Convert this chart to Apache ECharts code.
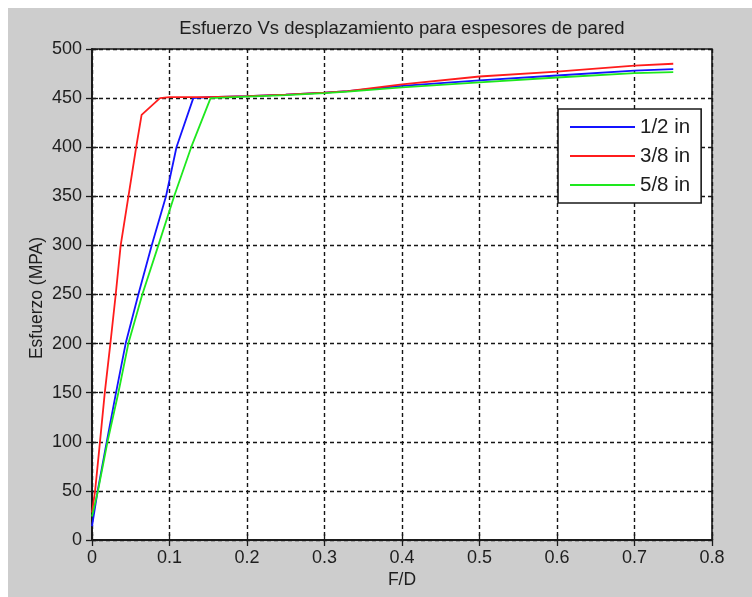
<!DOCTYPE html>
<html>
<head>
<meta charset="utf-8">
<title>Esfuerzo Vs desplazamiento</title>
<script src="https://cdn.jsdelivr.net/npm/echarts@6/dist/echarts.min.js"></script>
<style>
  html, body { margin: 0; padding: 0; background: #ffffff; }
  #frame { position: absolute; left: 8px; top: 8px; width: 744px; height: 589px; background: #cdcdcd; }
  #chart { width: 744px; height: 589px; }
</style>
</head>
<body>
<div id="frame"><div id="chart"></div></div>
<script>
// Tick values
const xTicks = [0, 0.1, 0.2, 0.3, 0.4, 0.5, 0.6, 0.7, 0.8];
const yTicks = [0, 50, 100, 150, 200, 250, 300, 350, 400, 450, 500];

// Wall thickness series names
const seriesNames = ['1/2 in', '3/8 in', '5/8 in'];

// 1/2 in wall: F/D vs stress (MPa)
const halfX = [0, 0.0073, 0.019, 0.031, 0.0434, 0.0598, 0.077, 0.0955, 0.109, 0.1307, 0.15, 0.2, 0.25, 0.3, 0.33, 0.4, 0.5, 0.6, 0.7, 0.75];
const halfY = [14, 50, 100, 150, 200, 250, 300, 350, 400, 450, 451, 452, 453.5, 455.5, 457, 462.5, 468, 473, 478, 479.5];

// 3/8 in wall
const threeEighthsX = [0, 0.004, 0.0103, 0.0165, 0.0237, 0.0306, 0.037, 0.047, 0.057, 0.064, 0.0877, 0.1, 0.15, 0.2, 0.25, 0.3, 0.33, 0.4, 0.5, 0.6, 0.7, 0.75];
const threeEighthsY = [28, 50, 100, 150, 200, 250, 300, 350, 400, 433, 450, 451, 451, 452, 453.5, 455.5, 457, 464, 472, 477, 483, 485];

// 5/8 in wall
const fiveEighthsX = [0, 0.0077, 0.02, 0.034, 0.0469, 0.0649, 0.0856, 0.106, 0.128, 0.153, 0.2, 0.25, 0.3, 0.33, 0.4, 0.5, 0.6, 0.7, 0.75];
const fiveEighthsY = [24, 50, 100, 150, 200, 250, 300, 350, 400, 450, 451.5, 453, 455, 456.5, 461, 466, 471, 475.5, 476.5];

const colors = ['#1414ff', '#ff1c1c', '#1ee81e'];
const FONT = '"Liberation Sans", Arial, sans-serif';

function pairs(xs, ys) { return xs.map((x, i) => [x, ys[i]]); }

const chart = echarts.init(document.getElementById('chart'));

const gridLine = { show: true, lineStyle: { color: '#151515', width: 1.4, type: [4, 3] } };
const axisLine = { show: true, lineStyle: { color: '#1a1a1a', width: 1.6 } };
const tick = { show: true, inside: true, length: 6, lineStyle: { color: '#1a1a1a', width: 1.3 } };
const tickLabel = { fontSize: 18, color: '#1e1e1e', fontFamily: FONT };

const xBase = {
  type: 'value', min: xTicks[0], max: xTicks[xTicks.length - 1], interval: 0.1,
  axisLine: axisLine, axisTick: tick
};
const yBase = {
  type: 'value', min: yTicks[0], max: yTicks[yTicks.length - 1], interval: 50,
  axisLine: axisLine, axisTick: tick
};

chart.setOption({
  animation: false,
  color: colors,
  grid: {
    left: 84, top: 41, right: 40, bottom: 57,
    show: true, backgroundColor: '#ffffff', borderColor: '#1a1a1a', borderWidth: 1.6
  },
  xAxis: [
    Object.assign({}, xBase, {
      position: 'bottom',
      axisLabel: Object.assign({ margin: 9, formatter: v => String(Math.round(v * 10) / 10) }, tickLabel),
      splitLine: gridLine
    }),
    Object.assign({}, xBase, { position: 'top', axisLabel: { show: false }, splitLine: { show: false } })
  ],
  yAxis: [
    Object.assign({}, yBase, {
      position: 'left',
      axisLabel: Object.assign({ margin: 10 }, tickLabel),
      splitLine: gridLine
    }),
    Object.assign({}, yBase, { position: 'right', axisLabel: { show: false }, splitLine: { show: false } })
  ],
  legend: {
    data: seriesNames,
    orient: 'vertical',
    left: 550, top: 101,
    padding: [7, 11, 7, 12],
    itemWidth: 65, itemHeight: 2, itemGap: 7,
    icon: 'rect',
    backgroundColor: '#ffffff',
    borderColor: '#1a1a1a', borderWidth: 1.6, borderRadius: 0,
    textStyle: { fontSize: 20.5, lineHeight: 22, color: '#1e1e1e', fontFamily: FONT },
    z: 10
  },
  graphic: [
    { type: 'text', x: 394, y: 21, style: { text: 'Esfuerzo Vs desplazamiento para espesores de pared', fontSize: 18.5, fontFamily: FONT, fill: '#1e1e1e', textAlign: 'center', textVerticalAlign: 'middle' } },
    { type: 'text', x: 394, y: 572, style: { text: 'F/D', fontSize: 17.5, fontFamily: FONT, fill: '#1e1e1e', textAlign: 'center', textVerticalAlign: 'middle' } },
    { type: 'text', x: 29, y: 290, rotation: Math.PI / 2, style: { text: 'Esfuerzo (MPA)', fontSize: 17.5, fontFamily: FONT, fill: '#1e1e1e', textAlign: 'center', textVerticalAlign: 'middle' } }
  ],
  series: [
    { name: seriesNames[0], type: 'line', showSymbol: false, data: pairs(halfX, halfY), lineStyle: { width: 1.8 } },
    { name: seriesNames[1], type: 'line', showSymbol: false, data: pairs(threeEighthsX, threeEighthsY), lineStyle: { width: 1.8 } },
    { name: seriesNames[2], type: 'line', showSymbol: false, data: pairs(fiveEighthsX, fiveEighthsY), lineStyle: { width: 1.8 } }
  ]
});
</script>
</body>
</html>
